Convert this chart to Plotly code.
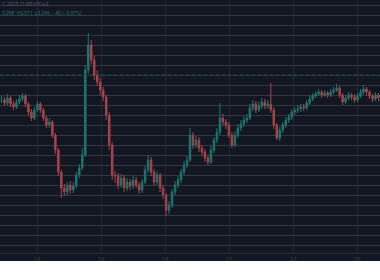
import plotly.graph_objects as go

closes = [3300, 3297, 3302, 3296, 3293, 3298, 3301, 3304, 3296, 3288,
          3282, 3290, 3296, 3290, 3282, 3275, 3278, 3265, 3250, 3228,
          3212, 3208, 3215, 3210, 3214, 3225, 3232, 3245, 3330, 3355,
          3340, 3325, 3318, 3310, 3303, 3285, 3255, 3225, 3224, 3215,
          3222, 3212, 3218, 3214, 3220, 3215, 3210, 3218, 3230, 3240,
          3228, 3218, 3225, 3212, 3205, 3190, 3195, 3208, 3215, 3220,
          3228, 3235, 3240, 3265, 3255, 3260, 3252, 3248, 3242, 3238,
          3250, 3260, 3268, 3282, 3278, 3275, 3265, 3255, 3265, 3272,
          3276, 3280, 3282, 3292, 3296, 3290, 3294, 3298, 3294, 3296,
          3290, 3275, 3262, 3270, 3275, 3280, 3283, 3288, 3290, 3291,
          3293, 3292, 3297, 3301, 3304, 3306, 3308, 3305, 3307, 3305,
          3308, 3310, 3312, 3305, 3298, 3302, 3305, 3303, 3300, 3304,
          3308, 3311, 3308, 3304, 3301, 3305, 3302]

highs = [3304, 3303, 3306, 3304, 3299, 3301, 3305, 3307, 3306, 3298,
         3291, 3293, 3299, 3298, 3292, 3284, 3282, 3280, 3267, 3252,
         3230, 3216, 3218, 3219, 3218, 3228, 3236, 3252, 3335, 3367,
         3360, 3344, 3330, 3322, 3313, 3305, 3288, 3258, 3229, 3227,
         3226, 3225, 3222, 3221, 3224, 3223, 3218, 3221, 3234, 3245,
         3243, 3231, 3229, 3227, 3215, 3207, 3199, 3211, 3219, 3224,
         3231, 3239, 3244, 3272, 3268, 3264, 3263, 3255, 3251, 3245,
         3254, 3263, 3272, 3297, 3286, 3281, 3278, 3268, 3269, 3276,
         3280, 3284, 3286, 3296, 3300, 3299, 3298, 3302, 3301, 3300,
         3317, 3293, 3277, 3273, 3278, 3283, 3286, 3291, 3293, 3295,
         3296, 3296, 3300, 3305, 3307, 3309, 3311, 3310, 3310, 3309,
         3311, 3313, 3316, 3314, 3307, 3305, 3308, 3307, 3306, 3307,
         3311, 3315, 3313, 3310, 3306, 3308, 3307]

lows = [3297, 3294, 3295, 3293, 3290, 3291, 3296, 3299, 3293, 3284,
        3279, 3280, 3288, 3287, 3279, 3272, 3272, 3262, 3246, 3224,
        3202, 3204, 3205, 3206, 3207, 3212, 3222, 3230, 3243, 3326,
        3336, 3320, 3314, 3305, 3299, 3280, 3250, 3220, 3217, 3211,
        3212, 3208, 3209, 3210, 3211, 3212, 3206, 3207, 3216, 3227,
        3224, 3214, 3215, 3208, 3201, 3184, 3186, 3192, 3205, 3212,
        3217, 3225, 3232, 3238, 3251, 3252, 3248, 3244, 3238, 3235,
        3236, 3247, 3257, 3265, 3274, 3271, 3262, 3252, 3253, 3262,
        3269, 3273, 3277, 3280, 3289, 3287, 3288, 3291, 3291, 3291,
        3287, 3271, 3260, 3259, 3267, 3272, 3277, 3280, 3285, 3287,
        3288, 3289, 3290, 3295, 3299, 3302, 3304, 3302, 3303, 3302,
        3303, 3306, 3308, 3302, 3295, 3296, 3300, 3300, 3297, 3298,
        3302, 3306, 3305, 3301, 3298, 3299, 3299]

opens = [3300] + closes[:-1]
idx = list(range(len(closes)))

tick_pos = [11.9, 33.3, 54.7, 76.1, 97.5, 118.9]
tick_text = ["14", "16", "18", "21", "23", "25"]
last_line_price = 3325

BG = "#131722"
UP = "#1e766f"
DOWN = "#a8434a"

fig = go.Figure()
fig.add_trace(go.Candlestick(
    x=idx, open=opens, high=highs, low=lows, close=closes,
    increasing=dict(line=dict(color=UP, width=1), fillcolor=UP),
    decreasing=dict(line=dict(color=DOWN, width=1), fillcolor=DOWN),
    whiskerwidth=0, showlegend=False, hoverinfo="skip",
))

fig.add_hline(y=last_line_price, line=dict(color="#1a4d4c", width=1, dash="dot"))

fig.update_layout(
    width=380, height=280,
    margin=dict(l=0, r=0, t=0, b=27),
    paper_bgcolor=BG, plot_bgcolor=BG,
    xaxis=dict(range=[-0.5, len(closes) - 0.5], rangeslider=dict(visible=False),
               tickmode="array", tickvals=tick_pos, ticktext=tick_text,
               showgrid=True, gridcolor="#242833", gridwidth=1,
               zeroline=False, showline=True, linecolor="#2a2e39",
               ticks="", tickfont=dict(size=6, color="#3a3e4b", family="Roboto")),
    yaxis=dict(range=[3147, 3400], tick0=3395, dtick=10, showgrid=True,
               gridcolor="#333743", gridwidth=1, zeroline=False,
               showticklabels=False, showline=False),
    font=dict(family="Roboto"),
)

fig.add_shape(type="rect", xref="paper", yref="paper", x0=-0.01, x1=1.01,
              y0=-27 / 253 - 0.01, y1=-8 / 253, fillcolor="white",
              line=dict(width=0), layer="above")

fig.add_annotation(text="1, 2025 11:00 UTC+2", xref="paper", yref="paper",
                   x=0.0, y=1.0, xanchor="left", yanchor="top", showarrow=False,
                   font=dict(size=5, color="#5a5e69"), yshift=1)
fig.add_annotation(text="3,298  H3,311  L3,299  −40 (−0.07%)", xref="paper", yref="paper",
                   x=0.0, y=1.0, xanchor="left", yanchor="top", showarrow=False,
                   font=dict(size=5, color="#1e766f"), yshift=-8)

fig.write_html("out.html")
